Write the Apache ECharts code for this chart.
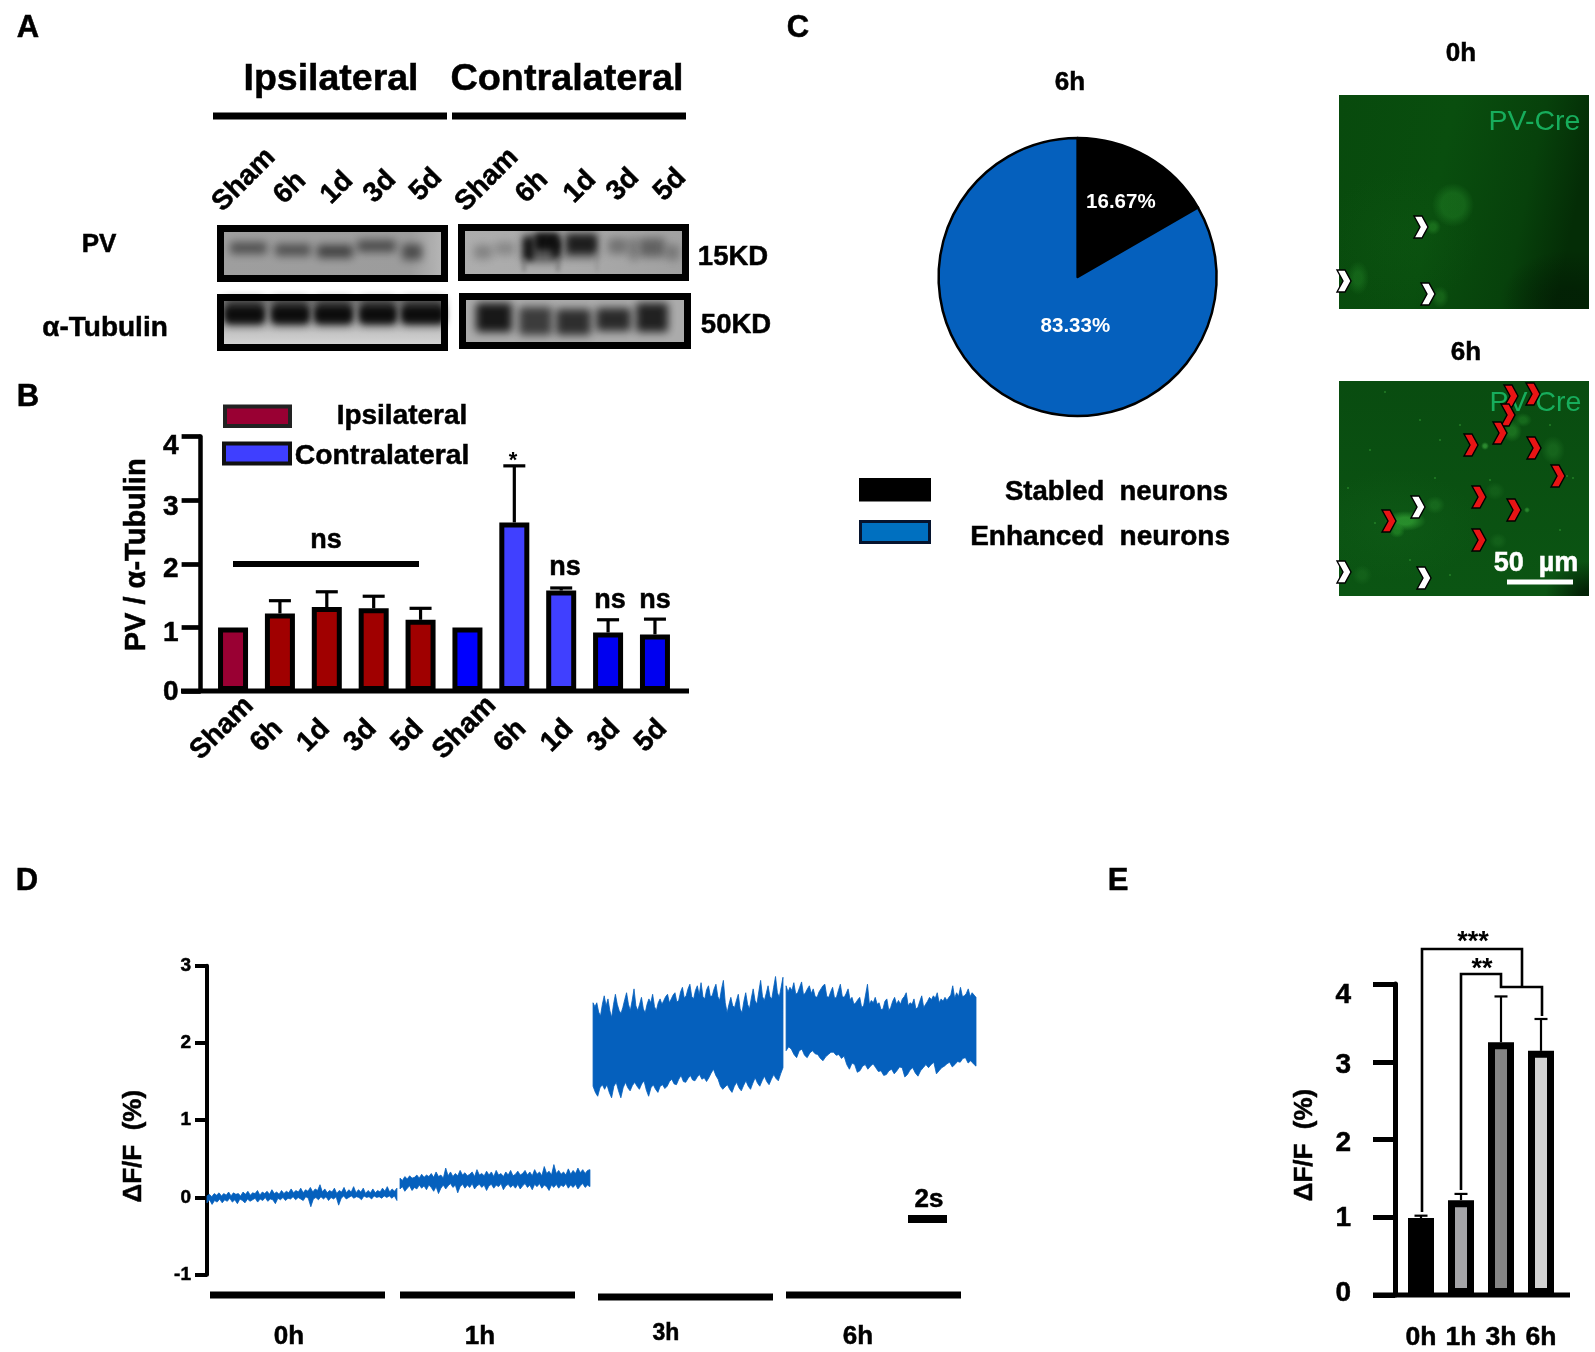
<!DOCTYPE html>
<html><head><meta charset="utf-8">
<style>html,body{margin:0;padding:0;background:#fff}#c{width:1595px;height:1352px}</style>
<script src="https://cdn.jsdelivr.net/npm/echarts@6/dist/echarts.min.js"></script>
</head><body><div id="c"></div>
<script>
// ---------- data ----------
const bCategories = ['Sham','6h','1d','3d','5d','Sham ','6h ','1d ','3d ','5d '];
const bValues = [1.00,1.22,1.32,1.30,1.12,1.00,2.65,1.58,0.92,0.89];
const bErrorTops = [null,1.42,1.56,1.49,1.30,null,3.54,1.62,1.12,1.13];
const bColors = ['#990033','#a00000','#a00000','#a00000','#a00000','#0000ff','#4040ff','#4040ff','#0000f0','#0000f0'];
const eCategories = ['0h','1h','3h','6h'];
const eValues = [0.99,1.22,3.25,3.14];
const eErrorTops = [1.02,1.30,3.84,3.55];
const eColors = ['#000000','#a5a5a8','#858585','#d3d3d3'];
const pieNames = ['Stabled neurons','Enhanced neurons'];
const pieValues = [16.67,83.33];
const pieColors = ['#000000','#0560bd'];
const traceStart = [0,9.9,19.8,29.7];
const traceLength = 9.74;
const upper0h = [.02,.04,.01,.05,.03,.06,.02,.05,.03,.07,.02,.06,.04,.05,.02,.07,.04,.08,.03,.06,.05,.09,.03,.07,.05,.08,.04,.10,.05,.07,.04,.09,.05,.08,.06,.11,.06,.09,.07,.12,.06,.10,.08,.13,.07,.11,.09,.165,.07,.11,.06,.09,.07,.12,.05,.09,.07,.13,.06,.10,.07,.14,.06,.10,.07,.12,.05,.09,.06,.11,.06,.09,.07,.12,.08,.14,.07,.11,.08,.12];
const lower0h = [-.07,-.03,-.09,-.04,-.06,-.02,-.07,-.03,-.05,-.01,-.06,-.03,-.08,-.02,-.04,-.07,-.02,-.05,-.03,-.01,-.06,-.02,-.04,0,-.05,-.02,-.03,-.08,-.01,-.03,0,-.04,-.01,-.02,.01,-.03,0,-.02,-.04,.01,-.01,-.12,-.02,.0,-.03,.01,-.02,.01,-.04,0,-.02,.01,-.1,-.01,.02,-.02,0,.02,-.01,.01,0,-.03,.02,0,.01,-.02,.02,0,.01,-.01,.02,0,.02,-.01,.02,-.04];
const upper1h = [.25,.22,.27,.24,.28,.25,.26,.29,.25,.30,.26,.29,.27,.31,.26,.33,.27,.29,.25,.38,.28,.33,.27,.31,.28,.35,.29,.32,.28,.30,.33,.27,.36,.29,.31,.28,.34,.29,.33,.27,.35,.29,.31,.27,.33,.29,.35,.28,.30,.34,.29,.31,.35,.29,.33,.28,.36,.30,.33,.28,.40,.31,.34,.29,.425,.31,.35,.30,.33,.29,.37,.30,.35,.31,.38,.32,.36,.31,.35,.36];
const lower1h = [.11,.14,.08,.12,.15,.09,.13,.11,.16,.12,.15,.10,.16,.13,.08,.14,.05,.12,.16,.11,.15,.18,.13,.16,.06,.14,.17,.12,.16,.13,.18,.11,.15,.17,.13,.16,.09,.15,.17,.12,.16,.14,.18,.10,.15,.17,.13,.16,.12,.17,.11,.15,.18,.13,.16,.10,.17,.14,.18,.12,.16,.14,.09,.16,.13,.17,.12,.16,.14,.18,.12,.16,.13,.17,.11,.15,.18,.13,.16,.14];
const upper3h = [2.52,2.47,2.52,2.40,2.35,2.50,2.61,2.48,2.57,2.42,2.33,2.50,2.63,2.50,2.42,2.38,2.46,2.56,2.65,2.50,2.42,2.55,2.70,2.48,2.42,2.50,2.59,2.44,2.39,2.50,2.57,2.52,2.63,2.47,2.42,2.52,2.57,2.50,2.55,2.60,2.63,2.52,2.57,2.62,2.65,2.53,2.55,2.66,2.72,2.58,2.61,2.70,2.76,2.60,2.57,2.68,2.74,2.62,2.78,2.60,2.57,2.69,2.74,2.60,2.61,2.70,2.76,2.60,2.55,2.70,2.81,2.52,2.39,2.50,2.59,2.48,2.46,2.55,2.63,2.44,2.39,2.54,2.65,2.50,2.44,2.58,2.70,2.55,2.50,2.66,2.81,2.60,2.55,2.64,2.74,2.60,2.57,2.72,2.86,2.65,2.59,2.72,2.85];
const lower3h = [1.44,1.36,1.31,1.42,1.46,1.40,1.46,1.36,1.29,1.44,1.49,1.38,1.29,1.42,1.49,1.42,1.38,1.45,1.49,1.44,1.40,1.47,1.51,1.39,1.31,1.42,1.46,1.40,1.36,1.44,1.46,1.41,1.44,1.50,1.53,1.47,1.46,1.53,1.58,1.50,1.49,1.54,1.58,1.52,1.51,1.56,1.59,1.53,1.55,1.50,1.55,1.61,1.66,1.58,1.53,1.44,1.40,1.43,1.46,1.40,1.36,1.44,1.49,1.42,1.38,1.45,1.51,1.44,1.40,1.48,1.55,1.48,1.44,1.51,1.57,1.50,1.46,1.53,1.59,1.54,1.51,1.60,1.68];
const upper6h = [2.74,2.66,2.72,2.68,2.78,2.63,2.65,2.72,2.79,2.62,2.65,2.70,2.74,2.64,2.70,2.60,2.59,2.66,2.70,2.74,2.76,2.60,2.59,2.66,2.72,2.58,2.59,2.68,2.76,2.60,2.59,2.64,2.70,2.56,2.59,2.50,2.52,2.56,2.59,2.46,2.48,2.62,2.76,2.50,2.55,2.52,2.59,2.50,2.52,2.43,2.44,2.54,2.57,2.42,2.46,2.54,2.59,2.50,2.55,2.50,2.57,2.60,2.65,2.48,2.52,2.50,2.57,2.44,2.46,2.54,2.61,2.46,2.50,2.54,2.59,2.56,2.61,2.58,2.65,2.52,2.57,2.54,2.59,2.55,2.59,2.62,2.74,2.58,2.65,2.60,2.72,2.60,2.61,2.64,2.70,2.60,2.65,2.62,2.59];
const lower6h = [1.90,1.95,1.92,1.85,1.81,1.90,1.92,1.84,1.81,1.87,1.90,1.86,1.85,1.80,1.77,1.82,1.85,1.88,1.88,1.84,1.85,1.80,1.83,1.72,1.66,1.74,1.72,1.62,1.64,1.70,1.72,1.66,1.70,1.73,1.68,1.63,1.64,1.58,1.59,1.64,1.66,1.60,1.64,1.69,1.68,1.56,1.59,1.65,1.68,1.61,1.57,1.64,1.68,1.72,1.68,1.72,1.75,1.60,1.64,1.68,1.70,1.73,1.75,1.69,1.72,1.76,1.75,1.80,1.81,1.74,1.77,1.73,1.70];
const traceUpper = [upper0h,upper1h,upper3h,upper6h];
const traceLower = [lower0h,lower1h,lower3h,lower6h];

// ---------- drawing helpers ----------
const FF = '"Liberation Sans", Arial, sans-serif';
const g = [];
function T(text,x,y,size,o){o=o||{};const col=o.color||'#000';const heavy=!o.normal&&!o.thin;
  g.push({type:'text',x:x,y:y,rotation:o.rot||0,z:o.z||20,silent:true,
  style:Object.assign({text:text,fill:col,font:(o.normal?'':'bold ')+size+'px '+FF,align:o.align||'center',verticalAlign:'middle'},heavy?{stroke:col,lineWidth:.5}:{})});}
function R(x0,y0,x1,y1,fill,o){o=o||{};g.push({type:'rect',z:o.z||5,silent:true,shape:{x:x0,y:y0,width:x1-x0,height:y1-y0},
  style:{fill:fill,stroke:o.stroke||null,lineWidth:o.lw||0}});}
function blob(x,y,rx,ry,c,a,hold,z){const h=hold==null?0.35:hold;g.push({type:'circle',x:x,y:y,scaleX:rx,scaleY:ry,z:z||2,silent:true,shape:{cx:0,cy:0,r:1},
  style:{fill:{type:'radial',x:.5,y:.5,r:.5,colorStops:[{offset:0,color:`rgba(${c},${a})`},{offset:h,color:`rgba(${c},${a})`},{offset:1,color:`rgba(${c},0)`}]}}});}
// soft rectangle: the shape sits off-canvas, only its blurred shadow shows
function soft(x0,y0,x1,y1,c,a,blur){const off=4000;g.push({type:'rect',z:2,silent:true,shape:{x:x0-off,y:y0,width:x1-x0,height:y1-y0,r:3},
  style:{fill:'#000',shadowColor:`rgba(${c},${a})`,shadowBlur:blur,shadowOffsetX:off*(window.devicePixelRatio||1),shadowOffsetY:0}});}
function chev(x,y,fill){g.push({type:'polygon',x:x,y:y,z:9,silent:true,shape:{points:[[-7,-11],[1,-11],[7,0],[1,11],[-7,11],[-1,0]]},
  style:{fill:fill,stroke:'#000',lineWidth:1.4}});}
function L(points,lw,z){g.push({type:'polyline',z:z||20,silent:true,shape:{points:points},style:{stroke:'#000',lineWidth:lw,fill:null}});}

// panel letters
T('A',28,28,31);T('B',28,397,31);T('C',798,28,31);T('D',27,881,31);T('E',1118,881,31);

// ---------- panel A ----------
T('Ipsilateral',331,80,37.5);T('Contralateral',567,80,37.8);
R(213,112.5,447,119.5,'#000');R(452,112.5,686,119.5,'#000');
[['Sham',244,180],['6h',290,188],['1d',337,188],['3d',380,187],['5d',426,185],['Sham',487,180],['6h',532,187],['1d',580,187],['3d',623,185],['5d',670,185]]
  .forEach(a=>T(a[0],a[1],a[2],28,{rot:Math.PI/4}));
T('PV',99,245,26);T('\u03b1-Tubulin',105,328,28);T('15KD',733,257,27.5);T('50KD',736,325,27.5);
function blotBox(x0,y0,x1,y1,bg){R(x0+3,y0+3,x1-3,y1-3,bg,{z:1});}
function blotFrame(x0,y0,x1,y1){R(x0+3.5,y0+3.5,x1-3.5,y1-3.5,null,{stroke:'#000',lw:7,z:4});}
// ipsi PV
blotBox(217,225,448,282,{type:'linear',x:0,y:0,x2:1,y2:0,colorStops:[{offset:0,color:'#9e9e9e'},{offset:.85,color:'#9c9c9c'},{offset:1,color:'#b8b8b8'}]});
[[230,267,242,254,.8],[275,311,244,256,.8],[317,353,245,258,.95],[357,396,240,252,.85],[402,422,244,260,.85]].forEach(b=>soft(b[0],b[2],b[1],b[3],'62,62,62',b[4],8));
blotFrame(217,225,448,282);
// ipsi tubulin
blotBox(217,294,448,351,{type:'linear',x:0,y:0,x2:0,y2:1,colorStops:[{offset:0,color:'#777'},{offset:.45,color:'#a0a0a0'},{offset:.7,color:'#c4c4c4'},{offset:1,color:'#d8d8d8'}]});
[[225,264],[272,309],[315,352],[360,396],[402,444]].forEach(b=>{soft(b[0],299,b[1],325,'45,45,45',.9,8);soft(b[0],307,b[1],322,'10,10,10',.95,6);});
blotFrame(217,294,448,351);
// contra PV
blotBox(458,224,689,281,{type:'linear',x:0,y:0,x2:1,y2:0,colorStops:[{offset:0,color:'#adadad'},{offset:.5,color:'#aaaaaa'},{offset:1,color:'#a0a0a0'}]});
[[474,492,245,259,.42],[495,515,242,255,.36],[522,560,234,262,.9],[563,598,232,258,.88],[608,628,238,254,.55],[630,637,238,260,.65],[639,665,238,257,.72],[666,679,245,260,.5]].forEach(b=>soft(b[0],b[2],b[1],b[3],'72,72,72',b[4],8));
[[524,533,238,260,.92],[535,559,233,250,.97],[552,560,240,258,.9],[568,596,236,252,.75]].forEach(b=>soft(b[0],b[2],b[1],b[3],'12,12,12',b[4],6));
soft(522,258,526,272,'100,100,100',.55,4);soft(556,258,560,272,'100,100,100',.55,4);soft(596,252,598,272,'110,110,110',.45,4);
blotFrame(458,224,689,281);
// contra tubulin
blotBox(459,293,691,349,'#ababab');
[[476,512,303,332,.96,'18,18,18'],[519,552,307,335,.9,'48,48,48'],[556,591,309,335,.94,'38,38,38'],[596,631,308,331,.94,'34,34,34'],[636,668,303,332,.95,'25,25,25']].forEach(b=>soft(b[0],b[2],b[1],b[3],b[5],b[4],9));
blotFrame(459,293,691,349);

// ---------- panel B decorations ----------
R(225,406.5,290,426,'#990033',{stroke:'#222',lw:4});R(224,443.5,290,463.5,'#3f3fff',{stroke:'#111',lw:4});
T('Ipsilateral',402,416,28);T('Contralateral',382,456,28.3);
R(181,688.6,689,693.4,'#000',{z:12});
R(233,561,419,567,'#000',{z:12});
T('ns',326,541,27);T('ns',565,568,27);T('ns',610,601,27);T('ns',655,601,27);T('*',513,461,22,{thin:true});

// ---------- panel C ----------
T('6h',1070,83,26);T('0h',1461,54,26);T('6h',1466,353,26);
R(859,478,931,501.5,'#000');R(860.5,521.5,929.5,542.5,'#0070c0',{stroke:'#06142e',lw:3});
T('Stabled  neurons',1228,492,27.5,{align:'right'});T('Enhanced  neurons',1230,537,28,{align:'right'});
// micrograph 0h
R(1339,95,1589,309,{type:'linear',x:0,y:0,x2:1,y2:.25,colorStops:[{offset:0,color:'#084a0d'},{offset:.45,color:'#094e0e'},{offset:.8,color:'#07410b'},{offset:1,color:'#042d06'}]},{z:1});
blob(1570,300,70,50,'2,26,4',.6,.2);blob(1400,240,80,70,'25,110,30',.1,.2);
blob(1453,205,21,22,'38,140,42',.4,.55);blob(1433,227,8,8,'45,150,45',.42);blob(1358,278,11,17,'36,135,40',.4);blob(1440,297,9,11,'40,135,40',.4);
T('PV-Cre',1534.5,122,28.5,{normal:true,color:'#17ad5c'});
[[1421,227],[1344,281],[1428,294]].forEach(p=>chev(p[0],p[1],'#fff'));
// micrograph 6h
R(1338,381,1589,596,{type:'linear',x:0,y:0,x2:0,y2:1,colorStops:[{offset:0,color:'#094c10'},{offset:1,color:'#0b5513'}]},{z:1});
blob(1590,596,45,35,'2,26,4',.85,.2);blob(1395,525,85,55,'30,120,38',.12,.2);
[[1405,521,21,10,'62,185,62',.55],[1397,531,8,7,'50,170,50',.42],[1435,505,10,9,'42,140,46',.36],[1512,431,10,11,'50,160,50',.42],[1523,420,9,7,'42,150,46',.38],[1553,450,12,14,'42,135,46',.38],[1485,446,4,4,'70,185,70',.55],[1495,491,10,9,'38,125,42',.3],[1527,510,3,3,'70,185,70',.5],[1498,541,9,8,'38,125,42',.3],[1362,575,10,10,'38,125,42',.3]]
  .forEach(b=>blob(b[0],b[1],b[2],b[3],b[4],b[5]));
[[1348,488],[1375,523],[1567,476],[1573,478],[1435,478],[1385,392],[1460,425],[1490,480],[1550,425],[1440,440],[1370,450],[1410,560],[1560,530],[1450,575],[1420,420]]
  .forEach(p=>g.push({type:'circle',z:3,silent:true,shape:{cx:p[0],cy:p[1],r:.8},style:{fill:'#36a036'}}));
// white margins that trim the soft glows to the picture frames
R(1280,60,1339,640,'#fff',{z:7});R(1589,60,1595,640,'#fff',{z:7});R(1280,60,1595,95,'#fff',{z:7});R(1280,309,1595,381,'#fff',{z:7});R(1280,596,1595,650,'#fff',{z:7});
T('PV-Cre',1535.5,403,28.5,{normal:true,color:'#17ad5c',z:8});
[[1511,396],[1533,394],[1508,415],[1500,433],[1471,445],[1534,448],[1558,476],[1479,497],[1514,510],[1389,521],[1479,540]].forEach(p=>chev(p[0],p[1],'#e81414'));
[[1418,507],[1344,572],[1424,578]].forEach(p=>chev(p[0],p[1],'#fff'));
T('50  \u00b5m',1536,564,27,{color:'#fff',z:10});R(1507,579.5,1573,584.5,'#fff',{z:10});

// ---------- panel D decorations ----------
R(210,1291.5,385,1298.5,'#000');R(400,1291.5,575,1298.5,'#000');R(598,1293.5,773,1300.5,'#000');R(786,1291.5,961,1298.5,'#000');
T('0h',289,1337,26);T('1h',480,1337,26);T('3h',666,1334,23);T('6h',858,1337,26);
T('2s',929,1200,26);R(908,1215,947,1223,'#000');

// ---------- panel E decorations ----------
R(1373,1292.5,1570,1297.5,'#000',{z:12});
L([[1422,1212],[1422,949],[1522,949],[1522,987]],2.6);
L([[1461,1190],[1461,974],[1501,974],[1501,987],[1542,987],[1542,1016]],2.6);
T('***',1473,943,27,{thin:true});T('**',1482,970,27,{thin:true});

// ---------- axis helpers ----------
const heavyText = {color:'#000',fontFamily:FF,fontWeight:'bold',textBorderColor:'#000',textBorderWidth:.5};
function shiftRich(map,size){const r={};Object.keys(map).forEach(k=>{const s=map[k];
  r['s'+k]=Object.assign({fontSize:size,padding:s>=0?[2*s,0,0,0]:[0,0,-2*s,0]},heavyText);});return r;}
function shiftFmt(v){return '{s'+v+'|'+v+'}';}
const groupLabelRich = {
  a:Object.assign({fontSize:28,padding:[0,23,8,0]},heavyText),
  b:Object.assign({fontSize:28,padding:[0,37,0,0]},heavyText),
  c:Object.assign({fontSize:28,padding:[3,11,0,0]},heavyText),
  d:Object.assign({fontSize:28,padding:[13,24,0,0]},heavyText)
};
function groupLabel(v){const second=v!==v.trim(),t=v.trim();
  return '{'+(t==='Sham'?(second?'c':'a'):(second?'d':'b'))+'|'+t+'}';}
function errorSeries(vals,tops,xi,yi,sw,capw){
  return {type:'custom',xAxisIndex:xi,yAxisIndex:yi,z:1,silent:true,
    data:vals.map((v,i)=>[i,v,tops[i]==null?v:tops[i]]),encode:{x:0,y:[1,2]},
    renderItem:(p,api)=>{if(tops[p.dataIndex]==null)return null;
      const a=api.coord([api.value(0),api.value(1)]),b=api.coord([api.value(0),api.value(2)]);
      return {type:'group',children:[
        {type:'line',shape:{x1:a[0],y1:a[1],x2:b[0],y2:b[1]},style:{stroke:'#000',lineWidth:sw}},
        {type:'line',shape:{x1:b[0]-capw/2,y1:b[1],x2:b[0]+capw/2,y2:b[1]},style:{stroke:'#000',lineWidth:sw}}]};}};
}

// ---------- chart ----------
const chart = echarts.init(document.getElementById('c'),null,{renderer:'canvas',width:1595,height:1352});
chart.setOption({
  animation:false,backgroundColor:'#ffffff',textStyle:{fontFamily:FF},
  grid:[
    {left:209.6,top:436.6,width:468.8,height:254.4},
    {left:207,top:965.7,width:769,height:309},
    {left:1401,top:984,width:160,height:311}
  ],
  xAxis:[
    {gridIndex:0,type:'category',data:bCategories,axisLine:{show:false},axisTick:{show:false},
     axisLabel:{interval:0,rotate:45,align:'center',verticalAlign:'middle',margin:32,formatter:groupLabel,rich:groupLabelRich}},
    {gridIndex:1,type:'value',min:0,max:39.44,show:false},
    {gridIndex:2,type:'category',data:eCategories,axisLine:{show:false},axisTick:{show:false},
     axisLabel:Object.assign({interval:0,margin:29,fontSize:26.5},heavyText)}
  ],
  yAxis:[
    {gridIndex:0,type:'value',min:0,max:4,interval:1,offset:9,splitLine:{show:false},
     axisLine:{show:true,lineStyle:{color:'#000',width:4.5}},axisTick:{show:true,length:19,lineStyle:{color:'#000',width:4.7}},
     axisLabel:{margin:22,formatter:shiftFmt,rich:shiftRich({0:1,1:6,2:5,3:7,4:10},28)},
     name:'PV / \u03b1-Tubulin',nameLocation:'middle',nameGap:49,nameTextStyle:Object.assign({fontSize:29,padding:[0,0,0,18]},heavyText)},
    {gridIndex:1,type:'value',min:-1,max:3,interval:1,splitLine:{show:false},
     axisLine:{show:true,onZero:false,lineStyle:{color:'#000',width:4}},axisTick:{show:true,length:12,lineStyle:{color:'#000',width:4}},
     axisLabel:Object.assign({margin:16,fontSize:19,padding:[3,0,0,0]},heavyText),
     name:'\u0394F/F  (%)',nameLocation:'middle',nameGap:60,nameTextStyle:Object.assign({fontSize:26,padding:[0,52,0,0]},heavyText)},
    {gridIndex:2,type:'value',min:0,max:4,interval:1,offset:6,splitLine:{show:false},
     axisLine:{show:true,lineStyle:{color:'#000',width:5}},axisTick:{show:true,length:22,lineStyle:{color:'#000',width:5}},
     axisLabel:{margin:44,formatter:shiftFmt,rich:shiftRich({0:-2,1:1.5,2:3.5,3:4,4:11},28)},
     name:'\u0394F/F  (%)',nameLocation:'middle',nameGap:77,nameTextStyle:Object.assign({fontSize:26,padding:[0,11,0,0]},heavyText)}
  ],
  series:[
    errorSeries(bValues,bErrorTops,0,0,3.2,22),
    {type:'bar',xAxisIndex:0,yAxisIndex:0,barWidth:30,z:2,silent:true,
     data:bValues.map((v,i)=>({value:v,itemStyle:{color:bColors[i],borderColor:'#000',borderWidth:5}}))},
    {type:'custom',xAxisIndex:1,yAxisIndex:1,silent:true,clip:false,
     data:traceStart.map((s,i)=>[s,traceUpper[i][0],traceLower[i][0]]),encode:{x:0,y:[1,2]},
     renderItem:(p,api)=>{const i=p.dataIndex,u=traceUpper[i],l=traceLower[i],s=traceStart[i],pts=[];
       u.forEach((v,k)=>pts.push(api.coord([s+traceLength*k/(u.length-1),v])));
       for(let k=l.length-1;k>=0;k--)pts.push(api.coord([s+traceLength*k/(l.length-1),l[k]]));
       return {type:'polygon',shape:{points:pts},style:{fill:'#0560bd',stroke:'#0560bd',lineWidth:.8}};}},
    errorSeries(eValues,eErrorTops,2,2,2.2,13),
    {type:'bar',xAxisIndex:2,yAxisIndex:2,barWidth:26,z:2,silent:true,
     data:eValues.map((v,i)=>({value:v,itemStyle:{color:eColors[i],borderColor:'#000',borderWidth:7}}))},
    {type:'pie',center:[1077.6,277],radius:139,startAngle:90,silent:true,
     data:pieNames.map((n,i)=>({name:n,value:pieValues[i],itemStyle:{color:pieColors[i],borderColor:'#000',borderWidth:2.5}})),
     label:{show:true,position:'inside',formatter:'{c}%',color:'#fff',fontWeight:'bold',fontSize:20.5},
     labelLine:{show:false},
     labelLayout:p=>p.dataIndex===0?{dx:7,dy:-12}:{dx:34,dy:-13}}
  ],
  graphic:{elements:g}
});
</script></body></html>
